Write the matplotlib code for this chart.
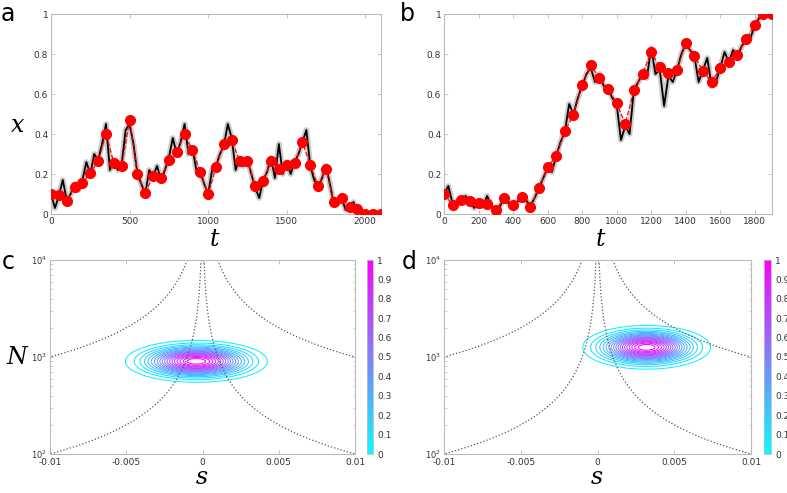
import numpy as np
import matplotlib
matplotlib.use("Agg")
import matplotlib.pyplot as plt
from matplotlib import cm
from matplotlib.ticker import LogLocator, NullFormatter

# ---------------- data ----------------
# Panel a: sampled points (red) every 50 time units
t_a_pts = np.arange(0, 2101, 50)
x_a_pts = [0.10, 0.095, 0.065, 0.135, 0.155, 0.205, 0.265, 0.40, 0.255, 0.24,
           0.47, 0.20, 0.105, 0.19, 0.18, 0.27, 0.31, 0.40, 0.32, 0.21,
           0.10, 0.235, 0.35, 0.37, 0.265, 0.265, 0.14, 0.165, 0.265, 0.225,
           0.245, 0.255, 0.36, 0.245, 0.14, 0.225, 0.06, 0.08, 0.035, 0.025,
           0.0, 0.0, 0.0]
# Panel a: trajectory (black) every 25 time units
t_a_traj = np.arange(0, 2001, 25)
x_a_traj = [0.10, 0.03, 0.09, 0.17, 0.07, 0.10, 0.15, 0.12, 0.17, 0.26,
            0.20, 0.30, 0.27, 0.35, 0.45, 0.22, 0.27, 0.22, 0.25, 0.42,
            0.45, 0.35, 0.20, 0.15, 0.10, 0.22, 0.19, 0.24, 0.17, 0.22,
            0.28, 0.38, 0.30, 0.36, 0.45, 0.30, 0.33, 0.22, 0.21, 0.15,
            0.10, 0.22, 0.24, 0.30, 0.34, 0.45, 0.38, 0.22, 0.28, 0.24,
            0.27, 0.20, 0.13, 0.08, 0.17, 0.21, 0.28, 0.18, 0.35, 0.20,
            0.26, 0.20, 0.26, 0.30, 0.36, 0.42, 0.24, 0.17, 0.13, 0.18,
            0.24, 0.15, 0.05, 0.05, 0.08, 0.02, 0.03, 0.06, 0.01, 0.0,
            0.0]

# Panel b
t_b_pts = np.arange(0, 1901, 50)
x_b_pts = [0.10, 0.045, 0.07, 0.065, 0.055, 0.05, 0.02, 0.08, 0.045, 0.085,
           0.035, 0.13, 0.235, 0.29, 0.415, 0.495, 0.645, 0.745, 0.68, 0.625,
           0.555, 0.45, 0.62, 0.70, 0.81, 0.735, 0.705, 0.72, 0.855, 0.79,
           0.715, 0.66, 0.73, 0.76, 0.795, 0.875, 0.945, 1.0, 1.0]
t_b_traj = np.arange(0, 1851, 25)
x_b_traj = [0.10, 0.14, 0.05, 0.06, 0.07, 0.09, 0.06, 0.03, 0.06, 0.04,
            0.09, 0.04, 0.02, 0.04, 0.08, 0.05, 0.05, 0.06, 0.09, 0.07,
            0.04, 0.08, 0.13, 0.18, 0.23, 0.21, 0.29, 0.36, 0.41, 0.55,
            0.50, 0.58, 0.64, 0.70, 0.73, 0.66, 0.70, 0.64, 0.63, 0.58,
            0.55, 0.37, 0.44, 0.40, 0.62, 0.66, 0.70, 0.68, 0.83, 0.70,
            0.72, 0.54, 0.69, 0.66, 0.72, 0.80, 0.85, 0.82, 0.79, 0.66,
            0.72, 0.78, 0.64, 0.66, 0.73, 0.81, 0.76, 0.82, 0.79, 0.84,
            0.87, 0.88, 0.94, 0.98, 1.0]

# Panels c/d: posterior peak location and spread in (s, log10 N)
post_c = dict(s0=-0.0004, logN0=2.955, ss=0.0019, sl=0.088)
post_d = dict(s0=0.0032, logN0=3.10, ss=0.0017, sl=0.092)
ns_consts = [1, 10]          # dotted curves |N s| = const
cbar_ticks = [0, 0.1, 0.2, 0.3, 0.4, 0.5, 0.6, 0.7, 0.8, 0.9, 1]

# ---------------- figure ----------------
W, H = 787, 493
fig = plt.figure(figsize=(W / 100, H / 100), dpi=100)

def ax_px(l, t, r, b):
    return fig.add_axes([l / W, 1 - b / H, (r - l) / W, (b - t) / H])

tick_col = '#333333'
spine_col = '#bbbbbb'

def style(ax):
    for sp in ax.spines.values():
        sp.set_color(spine_col)
        sp.set_linewidth(0.8)
    ax.tick_params(direction='in', top=True, right=True, labelsize=6.5,
                   colors=spine_col, labelcolor=tick_col, length=3, width=0.6, pad=2)
    ax.tick_params(which='minor', direction='in', top=True, right=True,
                   colors=spine_col, length=1.8, width=0.5)

def traj_panel(ax, tt, xx, tp, xp, xmax, xticks):
    ax.plot(tt, xx, color='#999999', lw=4.2, alpha=0.5, solid_joinstyle='round', zorder=1)
    ax.plot(tt, xx, color='black', lw=1.3, zorder=2)
    ax.plot(tp, xp, color='red', ls='--', lw=0.9, zorder=3)
    ax.plot(tp, xp, 'o', color='red', ms=7, mec='red', zorder=4)
    ax.set_xlim(0, xmax)
    ax.set_ylim(0, 1)
    ax.set_xticks(xticks)
    ax.set_yticks([0, 0.2, 0.4, 0.6, 0.8, 1])
    ax.set_yticklabels(['0', '0.2', '0.4', '0.6', '0.8', '1'])
    style(ax)

ax_a = ax_px(51, 14, 381, 214)
traj_panel(ax_a, t_a_traj, x_a_traj, t_a_pts, x_a_pts, 2100, [0, 500, 1000, 1500, 2000])
ax_b = ax_px(444, 14, 772, 214)
traj_panel(ax_b, t_b_traj, x_b_traj, t_b_pts, x_b_pts, 1900,
           [0, 200, 400, 600, 800, 1000, 1200, 1400, 1600, 1800])

levels = np.arange(0.05, 1.0, 0.05)

def post_panel(ax, cax, p):
    s = np.linspace(-0.01, 0.01, 400)
    lg = np.linspace(2, 4, 400)
    S, L = np.meshgrid(s, lg)
    Z = np.exp(-0.5 * (((S - p['s0']) / p['ss']) ** 2 + ((L - p['logN0']) / p['sl']) ** 2))
    ax.set_yscale('log')
    ax.contour(S, 10 ** L, Z, levels=levels, cmap='cool', vmin=0, vmax=1, linewidths=0.75)
    for c in ns_consts:
        sp = np.linspace(c / 1e4, 0.01, 400)
        ax.plot(sp, c / sp, ls=':', color='#555555', lw=0.9)
        ax.plot(-sp, c / sp, ls=':', color='#555555', lw=0.9)
    ax.set_xlim(-0.01, 0.01)
    ax.set_ylim(100, 10000)
    ax.set_xticks([-0.01, -0.005, 0, 0.005, 0.01])
    ax.set_xticklabels(['-0.01', '-0.005', '0', '0.005', '0.01'])
    ax.yaxis.set_major_locator(LogLocator(base=10, numticks=5))
    ax.yaxis.set_minor_locator(LogLocator(base=10, subs=np.arange(2, 10), numticks=20))
    ax.yaxis.set_minor_formatter(NullFormatter())
    style(ax)
    ax.tick_params(axis='y', labelsize=6)
    ax.tick_params(axis='x', pad=3)
    sm = cm.ScalarMappable(cmap='cool', norm=matplotlib.colors.Normalize(0, 1))
    cb = fig.colorbar(sm, cax=cax, ticks=cbar_ticks)
    cb.ax.set_yticklabels([f'{v:g}' for v in cbar_ticks])
    cb.outline.set_edgecolor(spine_col)
    cb.outline.set_linewidth(0.6)
    cb.ax.tick_params(labelsize=6.5, colors=spine_col, labelcolor=tick_col,
                      length=0, pad=3)

ax_c = ax_px(50, 260, 355, 454)
cax_c = ax_px(367, 260, 373, 454)
post_panel(ax_c, cax_c, post_c)
ax_d = ax_px(444, 260, 751, 454)
cax_d = ax_px(764, 260, 771, 454)
post_panel(ax_d, cax_d, post_d)

# labels
serif = dict(family='DejaVu Serif', style='italic', fontsize=17)
fig.text(18 / W, 1 - 125 / H, 'x', ha='center', va='center', **serif)
fig.text(214 / W, 1 - 240 / H, 't', ha='center', va='center', **serif)
fig.text(600 / W, 1 - 240 / H, 't', ha='center', va='center', **serif)
fig.text(17 / W, 1 - 357 / H, 'N', ha='center', va='center', **serif)
fig.text(202 / W, 1 - 478 / H, 's', ha='center', va='center', **serif)
fig.text(597 / W, 1 - 478 / H, 's', ha='center', va='center', **serif)

letter = dict(fontsize=17, family='DejaVu Sans', ha='center', va='center')
fig.text(8 / W, 1 - 14 / H, 'a', **letter)
fig.text(407 / W, 1 - 14 / H, 'b', **letter)
fig.text(8 / W, 1 - 262 / H, 'c', **letter)
fig.text(409 / W, 1 - 262 / H, 'd', **letter)

fig.savefig('out.png', dpi=100)
